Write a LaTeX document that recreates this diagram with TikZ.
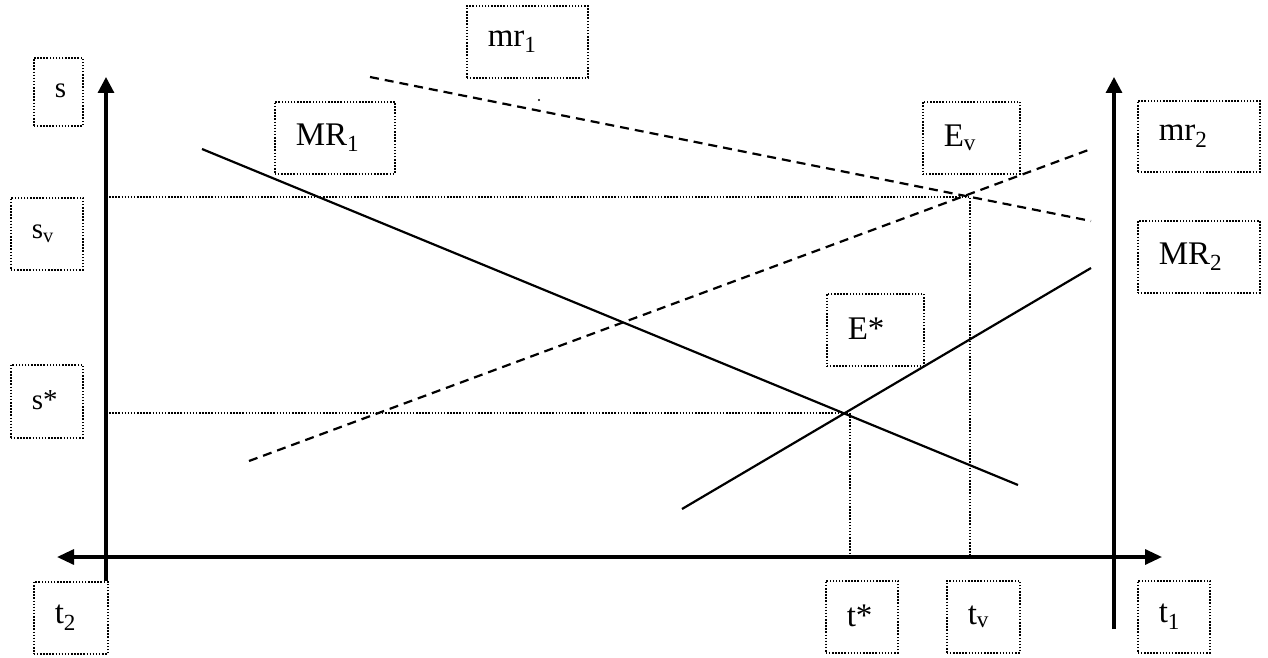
\documentclass[tikz,border=0pt]{standalone}
\usepackage{fontspec}
\setmainfont{Liberation Serif}
\usetikzlibrary{arrows.meta}
\begin{document}
\begin{tikzpicture}[x=1pt,y=-1pt,
  axis/.style={line width=3.2pt},
  curve/.style={line width=2.2pt},
  dcurve/.style={line width=2.2pt, dash pattern=on 9pt off 6pt},
  guide/.style={line width=1.6pt, dash pattern=on 1.5pt off 1.6pt},
  lbox/.style={draw, line width=1.6pt, dash pattern=on 1.5pt off 1.6pt, rectangle,
    anchor=north west, inner xsep=21pt, inner ysep=0pt, align=left,
    font=\fontsize{33}{33}\selectfont},
  sbox/.style={lbox, font=\fontsize{29}{29}\selectfont}]
\useasboundingbox (0,0) rectangle (1268,658);

% label boxes
\node[sbox, text width=7pt,  minimum height=68pt] (s)   at (33,57)   {\raisebox{3pt}{s}};
\node[sbox, text width=30pt, minimum height=72pt] (sv)  at (10,197)  {\raisebox{3pt}{s\textsubscript{v}}};
\node[sbox, text width=30pt, minimum height=73pt] (ss)  at (10,364)  {\raisebox{3pt}{s*}};
\node[lbox, text width=32pt, minimum height=72pt] (t2)  at (33,581)  {\raisebox{3pt}{t\textsubscript{2}}};
\node[lbox, text width=78pt, minimum height=72pt] (MR1) at (274,101) {\raisebox{3pt}{MR\textsubscript{1}}};
\node[lbox, text width=79pt, minimum height=72pt] (mr1) at (466,5)   {\raisebox{3pt}{mr\textsubscript{1}}};
\node[lbox, text width=55pt, minimum height=72pt] (Ev)  at (922,101) {\raisebox{3pt}{E\textsubscript{v}}};
\node[lbox, text width=80pt, minimum height=71pt] (mr2) at (1137,100) {\raisebox{3pt}{mr\textsubscript{2}}};
\node[lbox, text width=80pt, minimum height=72pt] (MR2) at (1137,220) {\raisebox{3pt}{MR\textsubscript{2}}};
\node[lbox, text width=55pt, minimum height=72pt] (Es)  at (826,293) {\raisebox{3pt}{E*}};
\node[lbox, text width=30pt, minimum height=72pt] (ts)  at (825,580) {\raisebox{3pt}{t*}};
\node[lbox, text width=31pt, minimum height=72pt] (tv)  at (946,580) {\raisebox{3pt}{t\textsubscript{v}}};
\node[lbox, text width=30pt, minimum height=72pt] (t1)  at (1137,580) {\raisebox{3pt}{t\textsubscript{1}}};

% coordinates
\coordinate (yL0) at (106,581); \coordinate (yL1) at (106,77);
\coordinate (yR0) at (1114,629); \coordinate (yR1) at (1114,77);
\coordinate (xL) at (57,557); \coordinate (xR) at (1162,557);
\coordinate (MR1a) at (202,149); \coordinate (MR1b) at (1018,485);
\coordinate (MR2a) at (682,509); \coordinate (MR2b) at (1091,268);
\coordinate (mr1a) at (370,77); \coordinate (mr1b) at (1091,221);
\coordinate (mr2a) at (249,461); \coordinate (mr2b) at (1091,149);
\coordinate (svL) at (106,197); \coordinate (EvP) at (970,197); \coordinate (tvB) at (970,557);
\coordinate (ssL) at (106,413); \coordinate (EsP) at (850,413); \coordinate (tsB) at (850,557);
\coordinate (dot) at (539,100);

% guide lines
\draw[guide] (svL) -- (EvP) -- (tvB);
\draw[guide] (ssL) -- (EsP) -- (tsB);

% curves
\draw[curve] (MR1a) -- (MR1b);
\draw[curve] (MR2a) -- (MR2b);
\draw[dcurve] (mr1a) -- (mr1b);
\draw[dcurve] (mr2a) -- (mr2b);
\fill (dot) circle (1.2pt);

% axes
\draw[axis, -{Triangle[length=16pt,width=16pt]}] (yL0) -- (yL1);
\draw[axis, -{Triangle[length=16pt,width=16pt]}] (yR0) -- (yR1);
\draw[axis, {Triangle[length=17pt,width=15pt]}-{Triangle[length=17pt,width=15pt]}] (xL) -- (xR);
\end{tikzpicture}
\end{document}
